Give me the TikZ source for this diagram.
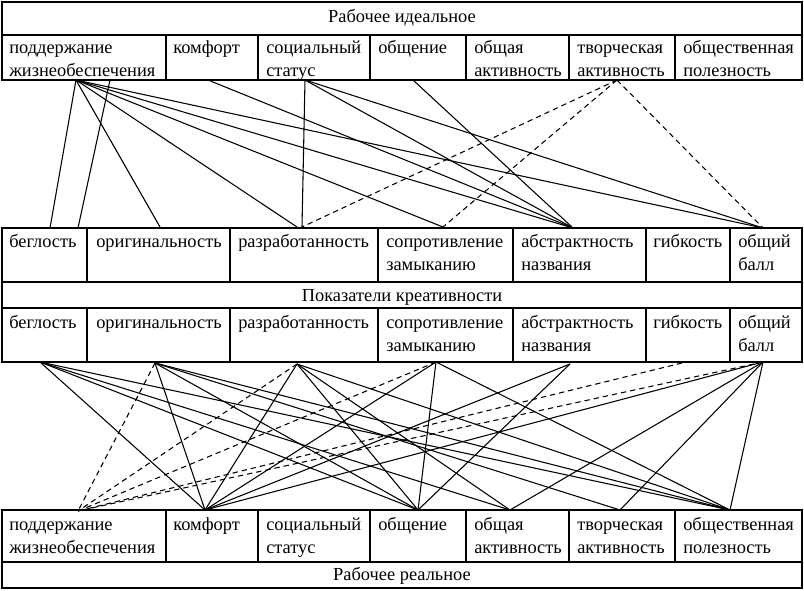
\documentclass[tikz,border=0pt]{standalone}
\usepackage{fontspec}
\setmainfont{Liberation Serif}
\begin{document}
\begin{tikzpicture}[x=0.75pt,y=-0.75pt,
  box/.style={draw,line width=1.5pt},
  lbl/.style={anchor=base west,inner sep=0pt,align=left,font=\fontsize{13.8pt}{17.25pt}\selectfont},
  ttl/.style={anchor=base,inner sep=0pt,font=\fontsize{13.8pt}{17.25pt}\selectfont},
  link/.style={line width=0.8pt},
  dlink/.style={line width=0.8pt,dash pattern=on 4pt off 3pt}]
\useasboundingbox (0,0) rectangle (804,590);
% ---------- top table ----------
\draw[box] (2,2) rectangle (802,80);
\draw[box] (2,35) -- (802,35);
\foreach \x in {166,258,370,466,569,675} \draw[box] (\x,35) -- (\x,80);
\node[ttl] (th) at (402,22) {Рабочее идеальное};
\node[lbl] (t1) at (9,76) {поддержание\\жизнеобеспечения};
\node[lbl] (t2) at (173,53) {комфорт};
\node[lbl] (t3) at (266,76) {социальный\\статус};
\node[lbl] (t4) at (378,53) {общение};
\node[lbl] (t5) at (474,76) {общая\\активность};
\node[lbl] (t6) at (577,76) {творческая\\активность};
\node[lbl] (t7) at (683,76) {общественная\\полезность};
% ---------- middle table ----------
\draw[box] (2,228) rectangle (802,362);
\draw[box] (2,282) -- (802,282);
\draw[box] (2,308) -- (802,308);
\foreach \x in {87,230,378,513,646,730} {\draw[box] (\x,228) -- (\x,282); \draw[box] (\x,308) -- (\x,362);}
\node[ttl] (mh) at (402,301) {Показатели креативности};
\foreach \y/\r in {247/a,328/b} {
\node[lbl] (m1\r) at (9,\y) {беглость};
\node[lbl] (m2\r) at (96,\y) {оригинальность};
\node[lbl] (m3\r) at (238,\y) {разработанность};
\node[lbl] (m4\r) at (386,\y+23) {сопротивление\\замыканию};
\node[lbl] (m5\r) at (521,\y+23) {абстрактность\\названия};
\node[lbl] (m6\r) at (653,\y) {гибкость};
\node[lbl] (m7\r) at (738,\y+23) {общий\\балл};
}
% ---------- bottom table ----------
\draw[box] (2,510) rectangle (802,588);
\draw[box] (2,562) -- (802,562);
\foreach \x in {166,258,370,466,569,675} \draw[box] (\x,510) -- (\x,562);
\node[ttl] (bh) at (402,580) {Рабочее реальное};
\node[lbl] (b1) at (9,553) {поддержание\\жизнеобеспечения};
\node[lbl] (b2) at (173,530) {комфорт};
\node[lbl] (b3) at (266,553) {социальный\\статус};
\node[lbl] (b4) at (378,530) {общение};
\node[lbl] (b5) at (474,553) {общая\\активность};
\node[lbl] (b6) at (577,553) {творческая\\активность};
\node[lbl] (b7) at (683,553) {общественная\\полезность};
% ---------- connection points ----------
\coordinate (uA) at (76,80);
\coordinate (uA2) at (110,80);
\coordinate (uB) at (208,80);
\coordinate (uC) at (305,80);
\coordinate (uD) at (413,80);
\coordinate (uF) at (617,80);
\coordinate (mA1) at (50,228);
\coordinate (mA2) at (78,228);
\coordinate (mB) at (160,227);
\coordinate (mC) at (297,227);
\coordinate (mC2) at (302,227);
\coordinate (mD) at (443,227);
\coordinate (mE) at (573,228);
\coordinate (mG) at (763,228);
% lower
\coordinate (lA) at (40,362);
\coordinate (lB) at (155,363);
\coordinate (lC) at (297,364);
\coordinate (lD) at (436,362);
\coordinate (lE) at (570,364);
\coordinate (lF) at (682,363);
\coordinate (lG) at (763,362);
\coordinate (dA) at (78,511);
\coordinate (dB) at (205,510);
\coordinate (dD) at (418,510);
\coordinate (dE) at (510,510);
\coordinate (dF) at (620,510);
\coordinate (dG) at (730,510);
% ---------- upper connectors ----------
\draw[link] (uA) -- (mA1);
\draw[link] (uA2) -- (mA2);
\draw[link] (uA) -- (mB);
\draw[link] (uA) -- (mC);
\draw[link] (uA) -- (mD);
\draw[link] (uA) -- (mE);
\draw[link] (uA) -- (mG);
\draw[link] (uB) -- (mE);
\draw[link] (uC) -- (mC2);
\draw[link] (uC) -- (mE);
\draw[link] (uC) -- (mG);
\draw[link] (uD) -- (mE);
\draw[dlink] (uF) -- (mC2);
\draw[dlink] (uF) -- (mD);
\draw[dlink] (uF) -- (mG);
% ---------- lower connectors ----------
\draw[link] (lA) -- (dB);
\draw[link] (lA) -- (dD);
\draw[link] (lA) -- (dE);
\draw[link] (lA) -- (dG);
\draw[link] (lB) -- (dB);
\draw[link] (lB) -- (dD);
\draw[link] (lB) -- (dF);
\draw[link] (lB) -- (dG);
\draw[link] (lC) -- (dB);
\draw[link] (lC) -- (dD);
\draw[link] (lC) -- (dE);
\draw[link] (lC) -- (dG);
\draw[link] (lD) -- (dB);
\draw[link] (lD) -- (dD);
\draw[link] (lD) -- (dG);
\draw[link] (lE) -- (dB);
\draw[link] (lE) -- (dD);
\draw[link] (lG) -- (dB);
\draw[link] (lG) -- (dE);
\draw[link] (lG) -- (dF);
\draw[link] (lG) -- (dG);
\draw[dlink] (lB) -- (dA);
\draw[dlink] (lC) -- (dA);
\draw[dlink] (lD) -- (dA);
\draw[dlink] (lF) -- (dA);
\draw[dlink] (lG) -- (dA);
\end{tikzpicture}
\end{document}
